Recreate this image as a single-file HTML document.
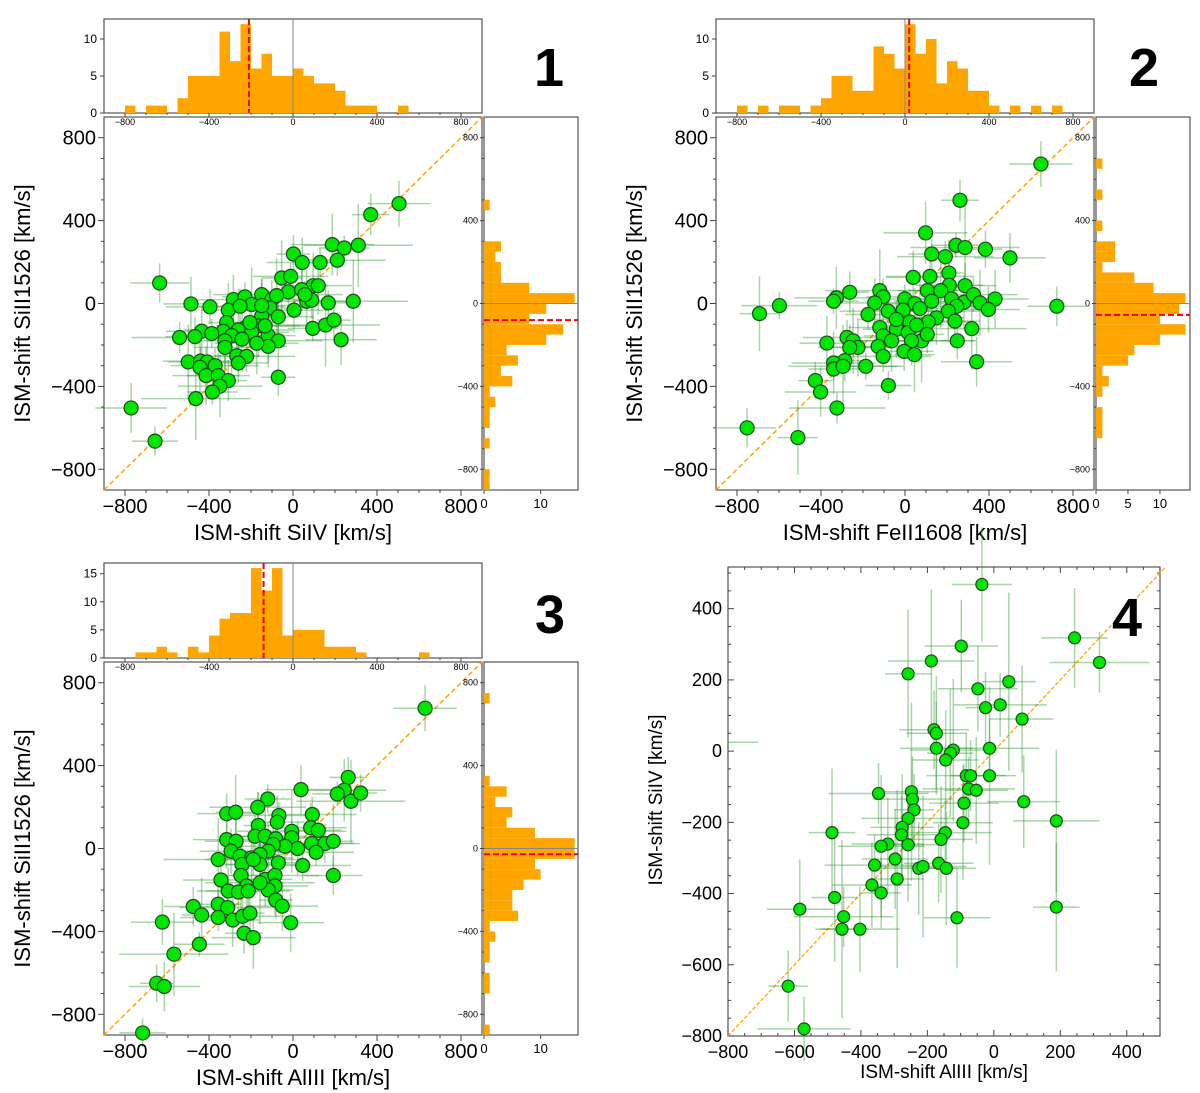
<!DOCTYPE html>
<html><head><meta charset="utf-8"><style>
html,body{margin:0;padding:0;background:#fff;}
svg{display:block;font-family:"Liberation Sans",sans-serif;}
</style></head><body>
<svg id="fig" width="1200" height="1093" viewBox="0 0 1200 1093" xmlns="http://www.w3.org/2000/svg"></svg>
<script>
// ---------- DATA ----------
const p1X=[505,370,187,244,311,2,44,129,211,-635,-54,-11,-486,-395,96,120,-22,41,65,168,287,89,-284,-229,-149,-101,-197,-110,-308,-252,-149,-70,5,-316,-165,-229,-260,-332,-435,-387,-540,-467,-292,-197,-118,-70,-243,-324,-324,-118,-173,94,155,195,229,-268,-221,-260,-499,-440,-408,-371,-443,-414,-356,-308,-348,-384,-463,-70,-771,-657,-133,-205,-78,57,-149];
const p1Y=[482,429,284,268,281,239,198,198,209,99,123,131,-2,-16,86,86,56,67,11,3,11,16,19,32,43,19,-5,-21,-32,-13,-61,-64,-32,-92,-108,-118,-128,-134,-134,-145,-164,-160,-155,-139,-155,-180,-172,-180,-212,-207,-192,-120,-104,-80,-175,-252,-255,-287,-282,-278,-282,-300,-308,-348,-348,-372,-399,-427,-459,-356,-504,-664,-108,-92,38,43,-10];
const p2X=[647,262,98,243,286,383,500,127,192,723,-693,-598,39,119,209,211,286,-263,-327,-340,-120,-104,-144,-1,47,106,170,222,281,326,357,429,397,246,206,238,318,249,341,-176,-80,-9,71,127,150,111,23,-41,-120,-104,-64,15,79,106,31,-128,-104,-4,45,-187,-372,-276,-247,-224,-263,-287,-340,-340,-295,-427,-402,-79,-324,-752,-510,-41,55];
const p2Y=[673,498,341,281,270,262,220,239,226,-13,-49,-10,126,131,147,88,86,54,27,11,62,32,3,22,-1,62,62,22,6,43,3,22,-29,-13,-37,-85,-121,-180,-281,-53,-37,-32,-24,11,-69,-89,-89,-124,-116,-156,-180,-140,-180,-149,-180,-207,-255,-231,-247,-303,-191,-164,-180,-212,-212,-276,-287,-316,-303,-372,-427,-396,-504,-600,-647,-77,-104];
const p3X=[629,263,244,211,276,322,38,-120,-168,-316,-273,-67,-75,92,-165,-316,-271,-181,-133,-82,-6,-6,84,120,89,152,192,110,22,-38,-94,-118,-295,-252,-197,-157,-356,-243,-157,-70,46,192,-248,-343,-133,-86,-221,-86,-308,-260,-213,-118,-157,-82,-51,-356,-311,-475,-435,-356,-287,-240,-205,-11,-622,-233,-189,-446,-567,-649,-613,-716,-189];
const p3Y=[677,343,281,263,228,268,284,239,199,168,175,159,127,164,111,43,35,59,59,47,83,52,100,88,24,24,35,-18,0,11,19,-13,-13,-37,-45,-29,-53,-77,-77,-69,-82,-130,-130,-152,-149,-130,-181,-181,-205,-210,-205,-200,-165,-249,-278,-269,-285,-280,-321,-333,-345,-327,-312,-358,-355,-409,-430,-462,-510,-650,-666,-890,-53];
const p4X=[-36,-98,-188,-258,243,318,45,-48,-25,19,85,-180,-173,-173,-122,-131,-145,-13,-13,-83,-70,-76,-53,-90,-93,90,188,188,-111,-347,-248,-245,-240,-258,-276,-278,-258,-319,-339,-487,-297,-359,-291,-367,-339,-146,-159,-166,-143,-226,-213,-479,-584,-452,-457,-403,-619,-571];
const p4Y=[468,295,253,217,318,249,195,175,122,130,90,60,50,8,3,-6,-25,8,-69,-69,-69,-106,-110,-146,-201,-142,-196,-438,-468,-119,-114,-135,-165,-189,-214,-235,-263,-261,-267,-229,-303,-320,-359,-376,-398,-229,-248,-315,-329,-329,-324,-411,-444,-465,-500,-500,-660,-780];
const errXa=[150,90,200,120,260,80,170,110,230,140,95,180,130,210,70,160];
const errYa=[110,70,160,90,130,60,180,100,75,140,120,85,200,65,150,95];
const errX4=[90,110,130,70,100,150,80,120,60,140,95,105];
const errY4=[160,120,200,90,140,110,250,130,100,180,150,85];
// histograms: start of first bin, bin width 50, counts
const h1TopStart=-800, h1Top=[1,0,1,1,0,2,5,5,5,11,7,12,6,8,5,5,6,5,4,4,3,1,1,1,0,0,1];
const h2TopStart=-800, h2Top=[1,0,1,0,1,1,0,1,2,5,5,3,3,9,8,6,12,8,10,4,7,6,3,3,1,0,1,0,1,0,1];
const h3TopStart=-750, h3Top=[1,1,2,1,0,2,1,4,7,8,8,16,12,16,4,5,5,5,2,2,2,1,0,0,0,0,0,1];
const h1RightStart=-900, h1Right=[1,1,0,0,1,0,1,1,2,1,5,3,6,4,11,14,8,11,16,8,3,3,2,3,0,0,0,1];
const h2RightStart=-650, h2Right=[1,1,1,0,1,2,1,5,6,10,14,10,13,14,9,6,1,3,3,0,1,0,0,1,0,0,1];
const h3RightStart=-900, h3Right=[1,0,0,0,1,1,0,1,1,2,1,6,5,5,7,10,9,16,16,9,4,5,2,4,1,0,0,0,0,0,0,0,1];
const means=[-210,-80,20,-55,-140,-28];
const xTicks=[-800,-400,0,400,800];
const x4Ticks=[-800,-600,-400,-200,0,200,400];
const y4Ticks=[-800,-600,-400,-200,0,200,400];

// ---------- HELPERS ----------
const NS="http://www.w3.org/2000/svg";
const svg=document.getElementById('fig');
function el(tag,attrs,parent,txt){const e=document.createElementNS(NS,tag);for(const k in attrs)e.setAttribute(k,attrs[k]);if(txt!==undefined)e.textContent=txt;(parent||svg).appendChild(e);return e;}
function lin(d0,d1,p0,p1){return v=>p0+(v-d0)*(p1-p0)/(d1-d0);}

function scatter(g,X,Y,sx,sy,ex,ey,r){
  const eg=el('g',{},g);
  
  
  for(let i=0;i<X.length;i++){
    const dx=ex[i%ex.length],dy=ey[(i*7)%ey.length];
    const l1=el('line',{x1:sx(X[i]-dx),x2:sx(X[i]+dx),y1:sy(Y[i]),y2:sy(Y[i]),stroke:'rgba(40,150,40,0.4)','stroke-width':1.5},eg);
    const l2=el('line',{x1:sx(X[i]),x2:sx(X[i]),y1:sy(Y[i]-dy),y2:sy(Y[i]+dy),stroke:'rgba(40,150,40,0.4)','stroke-width':1.5},eg);
  }
  for(let i=0;i<X.length;i++){
    const c=el('circle',{cx:sx(X[i]),cy:sy(Y[i]),r:r,fill:'#00e600',stroke:'#1a4a1a','stroke-width':1.2},g);
    
    
  }
}

function panel(id,ox,oy,X,Y,xlab,topC,topStart,topMax,topTicks,rC,rStart,rMax,rTicks,mTop,mRight,num,numX,numY){
  const g=el('g',{},svg);
  
  
  const x0=ox,x1=ox+378,y0=oy,y1=oy+373;
  const sx=lin(-900,900,x0,x1), sy=lin(-900,900,y1,y0);
  // main axes
  el('rect',{x:x0,y:y0,width:378,height:373,fill:'#fff',stroke:'#555','stroke-width':1.2},g);
  // minor ticks
  for(let v=-800;v<=800;v+=100){
    const len=v%400===0?6:3;
    el('line',{x1:sx(v),x2:sx(v),y1:y1,y2:y1+len,stroke:'#444'},g);
    el('line',{x1:x0,x2:x0-len,y1:sy(v),y2:sy(v),stroke:'#444'},g);
  }
  el('line',{x1:sx(-900),y1:sy(-900),x2:sx(900),y2:sy(900),stroke:'#ffa500','stroke-width':1.5,'stroke-dasharray':'5,3'},g);
  const sg=el('g',{},g);
  
  
  scatter(sg,X,Y,sx,sy,errXa,errYa,7);
  for(const t of xTicks){
    el('text',{x:sx(t),y:y1+23,'text-anchor':'middle','font-size':20},g,t<0?'\u2212'+(-t):String(t));
    el('text',{x:x0-8,y:sy(t)+7,'text-anchor':'end','font-size':20},g,t<0?'\u2212'+(-t):String(t));
  }
  const xl=el('text',{x:(x0+x1)/2,y:y1+50,'text-anchor':'middle','font-size':22},g,xlab);
  
  
  const yl=el('text',{x:0,y:0,transform:`translate(${x0-74},${(y0+y1)/2}) rotate(-90)`,'text-anchor':'middle','font-size':22},g,'ISM-shift SiII1526 [km/s]');
  
  
  // top hist
  const ty1=oy-4,ty0=topMax[1];
  const hty=lin(0,topMax[0],ty1,ty0);
  const tg=el('g',{},g);
  
  
  el('rect',{x:x0,y:ty0,width:378,height:ty1-ty0,fill:'#fff',stroke:'#555','stroke-width':1.2},tg);
  for(let i=0;i<topC.length;i++){if(!topC[i])continue;
    const b=el('rect',{x:sx(topStart+50*i),y:hty(topC[i]),width:sx(50)-sx(0),height:ty1-hty(topC[i]),fill:'#ffa500'},tg);
    
    }
  el('line',{x1:sx(0),x2:sx(0),y1:ty0,y2:ty1,stroke:'#888','stroke-width':1},tg);
  el('line',{x1:sx(mTop),x2:sx(mTop),y1:ty0,y2:ty1,stroke:'#e00','stroke-width':2,'stroke-dasharray':'6,3'},tg);
  for(const t of topTicks){el('line',{x1:x0,x2:x0-4,y1:hty(t),y2:hty(t),stroke:'#444'},tg);
    el('text',{x:x0-7,y:hty(t)+4,'text-anchor':'end','font-size':12},tg,String(t));}
  for(let v=-800;v<=800;v+=100){el('line',{x1:sx(v),x2:sx(v),y1:ty1,y2:ty1+(v%400===0?4:2),stroke:'#444'},tg);}
  for(const t of xTicks){el('text',{x:sx(t),y:ty1+12,'text-anchor':'middle','font-size':9},tg,t<0?'\u2212'+(-t):String(t));}
  // right hist
  const rx0=x1+2,rx1=x1+96;
  const hrx=lin(0,rMax,rx0,rx1);
  const rg=el('g',{},g);
  
  
  el('rect',{x:rx0,y:y0,width:94,height:373,fill:'#fff',stroke:'#555','stroke-width':1.2},rg);
  for(let i=0;i<rC.length;i++){if(!rC[i])continue;
    const b=el('rect',{x:rx0,y:sy(rStart+50*i+50),width:hrx(rC[i])-rx0,height:sy(0)-sy(50),fill:'#ffa500'},rg);
    
    }
  el('line',{x1:rx0,x2:rx1,y1:sy(0),y2:sy(0),stroke:'#888','stroke-width':1},rg);
  el('line',{x1:rx0,x2:rx1,y1:sy(mRight),y2:sy(mRight),stroke:'#e00','stroke-width':2,'stroke-dasharray':'6,3'},rg);
  for(let v=-800;v<=800;v+=100){el('line',{x1:rx0,x2:rx0-(v%400===0?4:2),y1:sy(v),y2:sy(v),stroke:'#444'},rg);}
  for(const t of xTicks){el('text',{x:rx0-6,y:sy(t)+3,'text-anchor':'end','font-size':9},rg,t<0?'\u2212'+(-t):String(t));}
  for(const t of rTicks){el('line',{x1:hrx(t),x2:hrx(t),y1:y1,y2:y1+4,stroke:'#444'},rg);
    el('text',{x:hrx(t),y:y1+18,'text-anchor':'middle','font-size':13},rg,String(t));}
  const n=el('text',{x:numX,y:numY,'text-anchor':'middle','font-size':54,'font-weight':'bold'},g,num);
  
  
}

panel('1',104,117,p1X,p1Y,'ISM-shift SiIV [km/s]',h1Top,h1TopStart,[12.7,19],[0,5,10],h1Right,h1RightStart,16.6,[0,10],means[0],means[1],'1',549,86);
panel('2',716,117,p2X,p2Y,'ISM-shift FeII1608 [km/s]',h2Top,h2TopStart,[12.7,19],[0,5,10],h2Right,h2RightStart,14.7,[0,5,10],means[2],means[3],'2',1144,86);
panel('3',104,662,p3X,p3Y,'ISM-shift AlIII [km/s]',h3Top,h3TopStart,[16.9,563],[0,5,10,15],h3Right,h3RightStart,16.6,[0,10],means[4],means[5],'3',550,633);

// panel 4
(function(){
  const g=el('g',{},svg);
  
  
  const x0=728,x1=1160,y0=567,y1=1036;
  const sx=lin(-800,500,x0,x1), sy=lin(-800,517,y1,y0);
  el('rect',{x:x0,y:y0,width:x1-x0,height:y1-y0,fill:'#fff',stroke:'#555','stroke-width':1.2},g);
  for(let v=-800;v<=500;v+=50){const len=v%200===0?6:3;
    el('line',{x1:sx(v),x2:sx(v),y1:y1,y2:y1-len,stroke:'#444'},g);
    el('line',{x1:sx(v),x2:sx(v),y1:y0,y2:y0+len,stroke:'#444'},g);
    if(v<=517){el('line',{x1:x0,x2:x0+len,y1:sy(v),y2:sy(v),stroke:'#444'},g);
    el('line',{x1:x1,x2:x1-len,y1:sy(v),y2:sy(v),stroke:'#444'},g);}}
  el('line',{x1:sx(-800),y1:sy(-800),x2:sx(517),y2:sy(517),stroke:'#ffa500','stroke-width':1.3,'stroke-dasharray':'4,2'},g);
  const sg=el('g',{},g);
  
  
  el('line',{x1:x0,x2:x0+30,y1:sy(25),y2:sy(25),stroke:'rgba(40,150,40,0.4)','stroke-width':1.5},sg);
  scatter(sg,p4X,p4Y,sx,sy,errX4,errY4,6);
  for(const t of x4Ticks){el('text',{x:sx(t),y:y1+22,'text-anchor':'middle','font-size':18},g,t<0?'\u2212'+(-t):String(t));}
  for(const t of y4Ticks){el('text',{x:x0-6,y:sy(t)+6,'text-anchor':'end','font-size':18},g,t<0?'\u2212'+(-t):String(t));}
  const xl=el('text',{x:944,y:1078,'text-anchor':'middle','font-size':19},g,'ISM-shift AlIII [km/s]');
  
  
  const yl=el('text',{x:0,y:0,transform:'translate(662,800) rotate(-90)','text-anchor':'middle','font-size':19},g,'ISM-shift SiIV [km/s]');
  
  
  const n=el('text',{x:1127,y:636,'text-anchor':'middle','font-size':54,'font-weight':'bold'},g,'4');
  
  
})();
</script>
</body></html>
